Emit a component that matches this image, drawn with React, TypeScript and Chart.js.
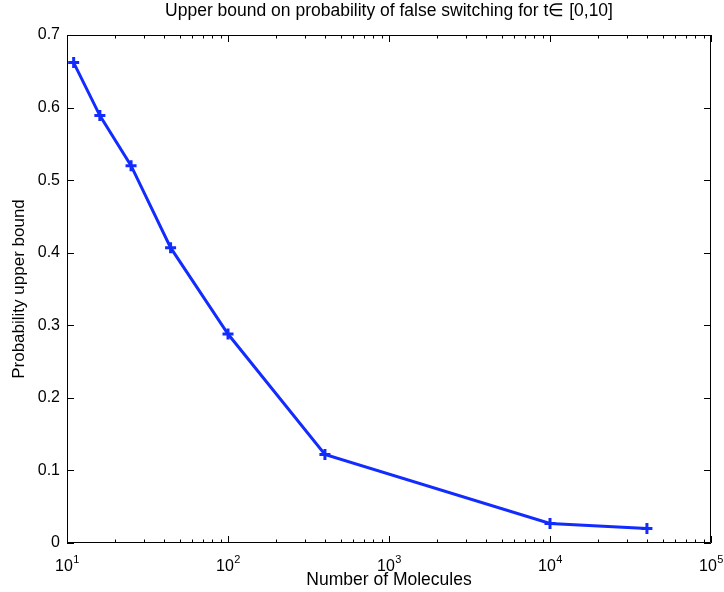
import React, { useEffect, useRef } from "react";
import { Chart, registerables } from "chart.js";

Chart.register(...registerables);

const titleText = "Upper bound on probability of false switching for t\u2208 [0,10]";
const xLabel = "Number of Molecules";
const yLabel = "Probability upper bound";

const molecules = [11, 16, 25, 44, 100, 400, 10000, 40000];
const probability = [0.662, 0.589, 0.52, 0.407, 0.288, 0.122, 0.027, 0.02];

const xExponents = [1, 2, 3, 4, 5];
const yTicks = [0, 0.1, 0.2, 0.3, 0.4, 0.5, 0.6, 0.7];

const FONT = "'Liberation Sans', Arial, Helvetica, sans-serif";
const LINE_COLOR = "rgb(18,44,255)";

const framePlugin = {
  id: "matlabFrame",
  afterDatasetsDraw(chart: any) {
    const { ctx, chartArea, scales } = chart;
    const { left, right, top, bottom } = chartArea;
    const xs = scales.x;
    const ys = scales.y;
    ctx.save();
    ctx.strokeStyle = "#000";
    ctx.lineWidth = 1;
    ctx.beginPath();
    const major = 7;
    const minor = 3.5;
    const last = xExponents[xExponents.length - 1];
    for (const e of xExponents) {
      const base = Math.pow(10, e);
      const px = Math.round(xs.getPixelForValue(base)) + 0.5;
      ctx.moveTo(px, bottom);
      ctx.lineTo(px, bottom - major);
      ctx.moveTo(px, top);
      ctx.lineTo(px, top + major);
      if (e < last) {
        for (let m = 2; m <= 9; m++) {
          const mx = Math.round(xs.getPixelForValue(base * m)) + 0.5;
          ctx.moveTo(mx, bottom);
          ctx.lineTo(mx, bottom - minor);
          ctx.moveTo(mx, top);
          ctx.lineTo(mx, top + minor);
        }
      }
    }
    for (const v of yTicks) {
      const py = Math.round(ys.getPixelForValue(v)) + 0.5;
      ctx.moveTo(left, py);
      ctx.lineTo(left + major, py);
      ctx.moveTo(right, py);
      ctx.lineTo(right - major, py);
    }
    ctx.stroke();
    ctx.beginPath();
    ctx.rect(Math.round(left) + 0.5, Math.round(top) + 0.5, Math.round(right - left) - 1, Math.round(bottom - top) - 1);
    ctx.stroke();

    // x tick labels: 10 with raised exponent
    ctx.fillStyle = "#000";
    ctx.textBaseline = "alphabetic";
    ctx.textAlign = "left";
    for (const e of xExponents) {
      const px = xs.getPixelForValue(Math.pow(10, e));
      const baseStr = "10";
      const expStr = String(e);
      ctx.font = `16px ${FONT}`;
      const wb = ctx.measureText(baseStr).width;
      ctx.font = `11px ${FONT}`;
      const we = ctx.measureText(expStr).width;
      const x0 = px - (wb + we) / 2;
      ctx.font = `16px ${FONT}`;
      ctx.fillText(baseStr, x0, bottom + 27.5);
      ctx.font = `11px ${FONT}`;
      ctx.fillText(expStr, x0 + wb + 0.5, bottom + 20);
    }
    ctx.restore();
  },
};

export default function App() {
  const ref = useRef<HTMLCanvasElement | null>(null);

  useEffect(() => {
    if (!ref.current) return;
    const chart = new Chart(ref.current, {
      type: "line",
      data: {
        datasets: [
          {
            data: molecules.map((m, i) => ({ x: m, y: probability[i] })),
            borderColor: LINE_COLOR,
            backgroundColor: LINE_COLOR,
            borderWidth: 3,
            pointStyle: "cross",
            pointRadius: 5.5,
            pointBorderWidth: 3,
            pointBorderColor: LINE_COLOR,
            tension: 0,
            fill: false,
          },
        ],
      },
      options: {
        responsive: false,
        animation: false,
        layout: { padding: { left: 0, right: 13, top: 0, bottom: 0 } },
        plugins: {
          legend: { display: false },
          tooltip: { enabled: false },
          title: {
            display: true,
            fullSize: false,
            text: titleText,
            color: "#000",
            font: { family: FONT, size: 17.5, weight: "normal" },
            padding: { top: 1, bottom: 13 },
          },
        },
        scales: {
          x: {
            type: "logarithmic",
            min: 10,
            max: 100000,
            afterFit(scale: any) {
              scale.height = 49;
            },
            afterBuildTicks(scale: any) {
              scale.ticks = xExponents.map((e) => ({ value: Math.pow(10, e), major: true }));
            },
            grid: { display: false, drawTicks: false },
            border: { display: false },
            ticks: { display: false },
            title: {
              display: true,
              text: xLabel,
              color: "#000",
              font: { family: FONT, size: 17.5 },
              padding: { top: 0, bottom: 1.5 },
            },
          },
          y: {
            type: "linear",
            min: 0,
            max: 0.7,
            afterFit(scale: any) {
              scale.width = 67;
            },
            afterBuildTicks(scale: any) {
              scale.ticks = yTicks.map((v) => ({ value: v }));
            },
            grid: { display: false, drawTicks: false },
            border: { display: false },
            ticks: {
              padding: 7,
              color: "#000",
              font: { family: FONT, size: 16 },
              callback: (value: any) => String(Math.round(Number(value) * 10) / 10),
            },
            title: {
              display: true,
              text: yLabel,
              color: "#000",
              font: { family: FONT, size: 17 },
              padding: { top: 9, bottom: 0 },
            },
          },
        },
      },
      plugins: [framePlugin],
    });
    return () => chart.destroy();
  }, []);

  return (
    <div style={{ position: "fixed", left: 0, top: 0, width: 724, height: 592, background: "#fff" }}>
      <canvas ref={ref} width={724} height={592} style={{ display: "block" }} />
    </div>
  );
}
